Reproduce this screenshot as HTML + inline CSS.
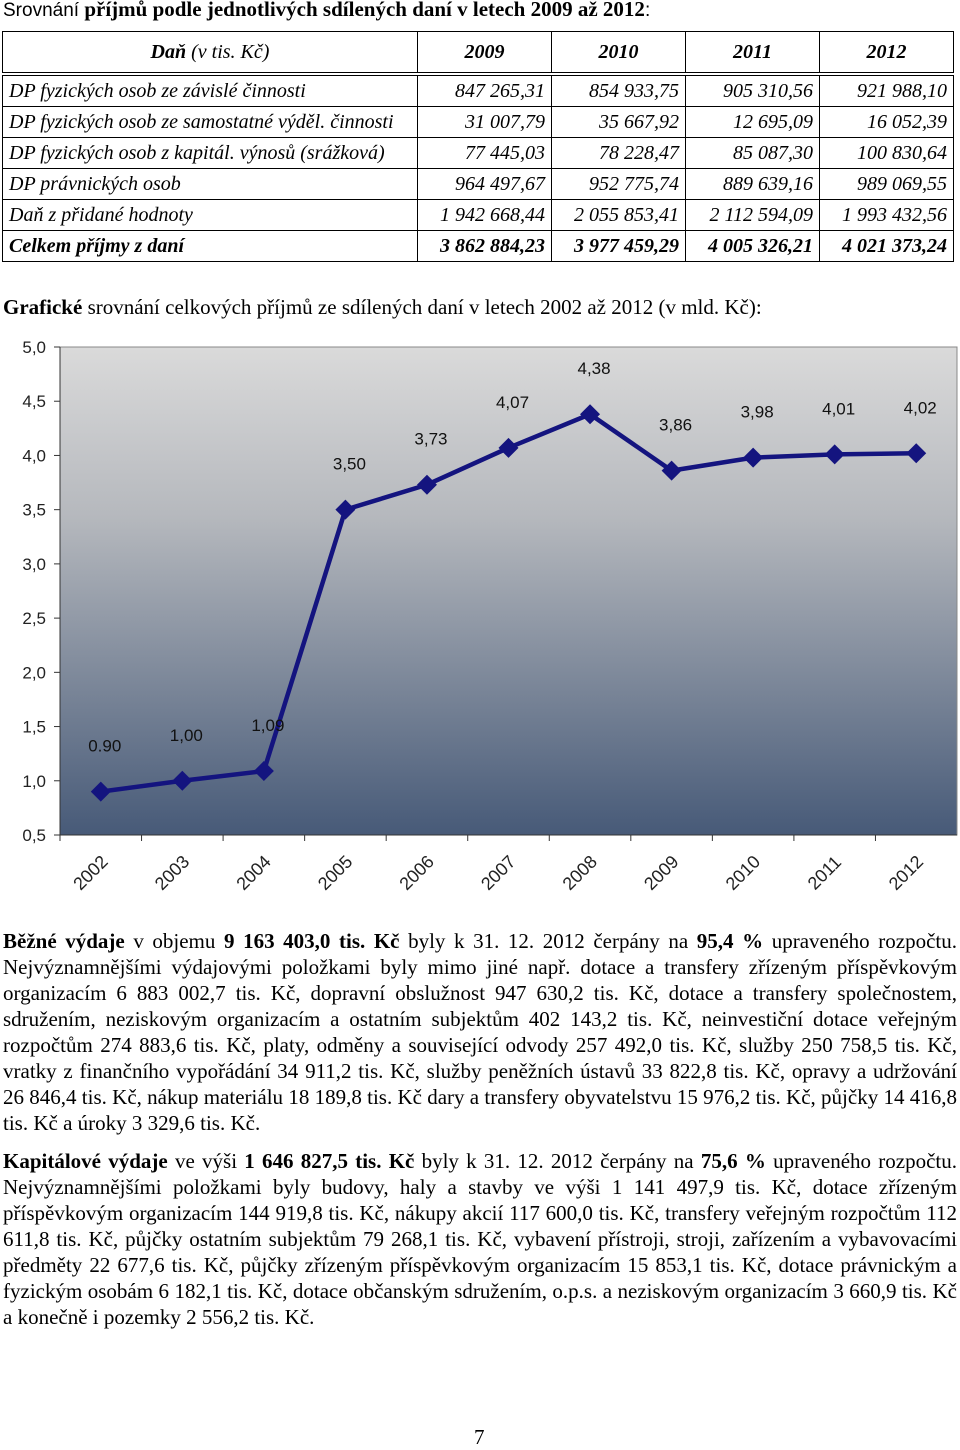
<!DOCTYPE html>
<html><head><meta charset="utf-8">
<style>
body{margin:0;width:960px;height:1447px;background:#fff;position:relative;font-family:"Liberation Serif",serif;color:#000;overflow:hidden}
.abs{position:absolute}
#title{left:3px;top:-3px;font-size:21px;white-space:nowrap}
#title .s{font-family:"Liberation Sans",sans-serif;font-size:19px}
table{position:absolute;left:2px;top:31px;border-collapse:collapse;font-style:italic;font-size:20px}
td{border:1px solid #000;height:30px;padding:0 6px;white-space:nowrap}
td.n{text-align:right}
tr.h td{height:40px;text-align:center;font-weight:bold;border-bottom:4px double #000}
tr.t td{font-weight:bold}
#heading{left:3px;top:295px;font-size:21px;white-space:nowrap}
.p{position:absolute;left:3px;width:954px;font-size:21px;line-height:26px;text-align:justify}
#pg{left:474px;top:1425px;font-size:21px}
</style></head><body>
<div id="title" class="abs"><span class="s">Srovnání </span><b>příjmů podle jednotlivých sdílených daní v letech 2009 až 2012</b><span class="s">:</span></div>
<table>
<tr class="h"><td style="width:402px"><b>Daň</b> <span style="font-weight:normal">(v tis. Kč)</span></td><td style="width:121px">2009</td><td style="width:121px">2010</td><td style="width:121px">2011</td><td style="width:121px">2012</td></tr>
<tr><td>DP fyzických osob ze závislé činnosti</td><td class="n">847 265,31</td><td class="n">854 933,75</td><td class="n">905 310,56</td><td class="n">921 988,10</td></tr>
<tr><td>DP fyzických osob ze samostatné výděl. činnosti</td><td class="n">31 007,79</td><td class="n">35 667,92</td><td class="n">12 695,09</td><td class="n">16 052,39</td></tr>
<tr><td>DP fyzických osob z kapitál. výnosů (srážková)</td><td class="n">77 445,03</td><td class="n">78 228,47</td><td class="n">85 087,30</td><td class="n">100 830,64</td></tr>
<tr><td>DP právnických osob</td><td class="n">964 497,67</td><td class="n">952 775,74</td><td class="n">889 639,16</td><td class="n">989 069,55</td></tr>
<tr><td>Daň z přidané hodnoty</td><td class="n">1 942 668,44</td><td class="n">2 055 853,41</td><td class="n">2 112 594,09</td><td class="n">1 993 432,56</td></tr>
<tr class="t"><td>Celkem příjmy z daní</td><td class="n">3 862 884,23</td><td class="n">3 977 459,29</td><td class="n">4 005 326,21</td><td class="n">4 021 373,24</td></tr>
</table>
<div id="heading" class="abs"><b>Grafické</b> srovnání celkových příjmů ze sdílených daní v letech 2002 až 2012 (v mld. Kč):</div>
<svg id="chart" class="abs" style="left:0;top:330px" width="960" height="570">
<defs><linearGradient id="bg" x1="0" y1="0" x2="0" y2="1"><stop offset="0" stop-color="#dadada"/><stop offset="0.35" stop-color="#b5b8bd"/><stop offset="1" stop-color="#475a78"/></linearGradient></defs>
<g id="plot"></g>
</svg>
<script>
const years=["2002","2003","2004","2005","2006","2007","2008","2009","2010","2011","2012"];
const values=[0.90,1.00,1.09,3.50,3.73,4.07,4.38,3.86,3.98,4.01,4.02];
const valueLabels=["0.90","1,00","1,09","3,50","3,73","4,07","4,38","3,86","3,98","4,01","4,02"];
const yTicks=[0.5,1.0,1.5,2.0,2.5,3.0,3.5,4.0,4.5,5.0];
const yTickLabels=["0,5","1,0","1,5","2,0","2,5","3,0","3,5","4,0","4,5","5,0"];
const NS="http://www.w3.org/2000/svg";
const L=60,R=957,T=17,B=505,yMin=0.5,yMax=5.0;
const bw=(R-L)/years.length;
const xs=i=>L+bw*(i+0.5);
const ys=v=>B-(v-yMin)/(yMax-yMin)*(B-T);
const g=document.getElementById('plot');
function mk(t,a){const e=document.createElementNS(NS,t);for(const k in a)e.setAttribute(k,a[k]);g.appendChild(e);return e;}
let e=mk('rect',{x:L,y:T,width:R-L,height:B-T,fill:'url(#bg)',stroke:'#888','stroke-width':1});


e=mk('line',{x1:L,y1:T,x2:L,y2:B,stroke:'#333'});


e=mk('line',{x1:L,y1:B,x2:R,y2:B,stroke:'#333'});


yTicks.forEach((v,i)=>{
  mk('line',{x1:L-6,y1:ys(v),x2:L,y2:ys(v),stroke:'#333'});
  const t=mk('text',{x:L-14,y:ys(v)+6,'text-anchor':'end','font-family':'Liberation Sans, sans-serif','font-size':17,fill:'#222'});
  t.textContent=yTickLabels[i];
  
  
});
years.forEach((y,i)=>{
  const x=L+bw*i;
  mk('line',{x1:x,y1:B,x2:x,y2:B+6,stroke:'#333'});
  const cx=xs(i)-6,cy=B+42;
  const t=mk('text',{x:cx,y:cy,'text-anchor':'middle','font-family':'Liberation Sans, sans-serif','font-size':18,fill:'#222',transform:`rotate(-45 ${cx} ${cy})`});
  t.textContent=y;
  
  
});
e=mk('polyline',{points:values.map((v,i)=>xs(i)+','+ys(v)).join(' '),fill:'none',stroke:'#14147f','stroke-width':4.5,'stroke-linejoin':'round'});


values.forEach((v,i)=>{
  const x=xs(i),y=ys(v);
  const m=mk('polygon',{points:`${x},${y-10} ${x+10},${y} ${x},${y+10} ${x-10},${y}`,fill:'#14147f'});
  
  
  const t=mk('text',{x:x+4,y:y-40,'text-anchor':'middle','font-family':'Liberation Sans, sans-serif','font-size':17,fill:'#111'});
  t.textContent=valueLabels[i];
  
  
});
</script>
<div class="p" style="top:928px"><b>Běžné výdaje</b> v objemu <b>9 163 403,0 tis. Kč</b> byly k 31. 12. 2012 čerpány na <b>95,4 %</b> upraveného rozpočtu. Nejvýznamnějšími výdajovými položkami byly mimo jiné např. dotace a transfery zřízeným příspěvkovým organizacím 6 883 002,7 tis. Kč, dopravní obslužnost 947 630,2 tis. Kč, dotace a transfery společnostem, sdružením, neziskovým organizacím a ostatním subjektům 402 143,2 tis. Kč, neinvestiční dotace veřejným rozpočtům 274 883,6 tis. Kč, platy, odměny a související odvody 257 492,0 tis. Kč, služby 250 758,5 tis. Kč, vratky z finančního vypořádání 34 911,2 tis. Kč, služby peněžních ústavů 33 822,8 tis. Kč, opravy a udržování 26 846,4 tis. Kč, nákup materiálu 18 189,8 tis. Kč dary a transfery obyvatelstvu 15 976,2 tis. Kč, půjčky 14 416,8 tis. Kč a úroky 3 329,6 tis. Kč.</div>
<div class="p" style="top:1148px"><b>Kapitálové výdaje</b> ve výši <b>1 646 827,5 tis. Kč</b> byly k 31. 12. 2012 čerpány na <b>75,6 %</b> upraveného rozpočtu. Nejvýznamnějšími položkami byly budovy, haly a stavby ve výši 1 141 497,9 tis. Kč, dotace zřízeným příspěvkovým organizacím 144 919,8 tis. Kč, nákupy akcií 117 600,0 tis. Kč, transfery veřejným rozpočtům 112 611,8 tis. Kč, půjčky ostatním subjektům 79 268,1 tis. Kč, vybavení přístroji, stroji, zařízením a vybavovacími předměty 22 677,6 tis. Kč, půjčky zřízeným příspěvkovým organizacím 15 853,1 tis. Kč, dotace právnickým a fyzickým osobám 6 182,1 tis. Kč, dotace občanským sdružením, o.p.s. a neziskovým organizacím 3 660,9 tis. Kč a konečně i pozemky 2 556,2 tis. Kč.</div>
<div id="pg" class="abs">7</div>
</body></html>
